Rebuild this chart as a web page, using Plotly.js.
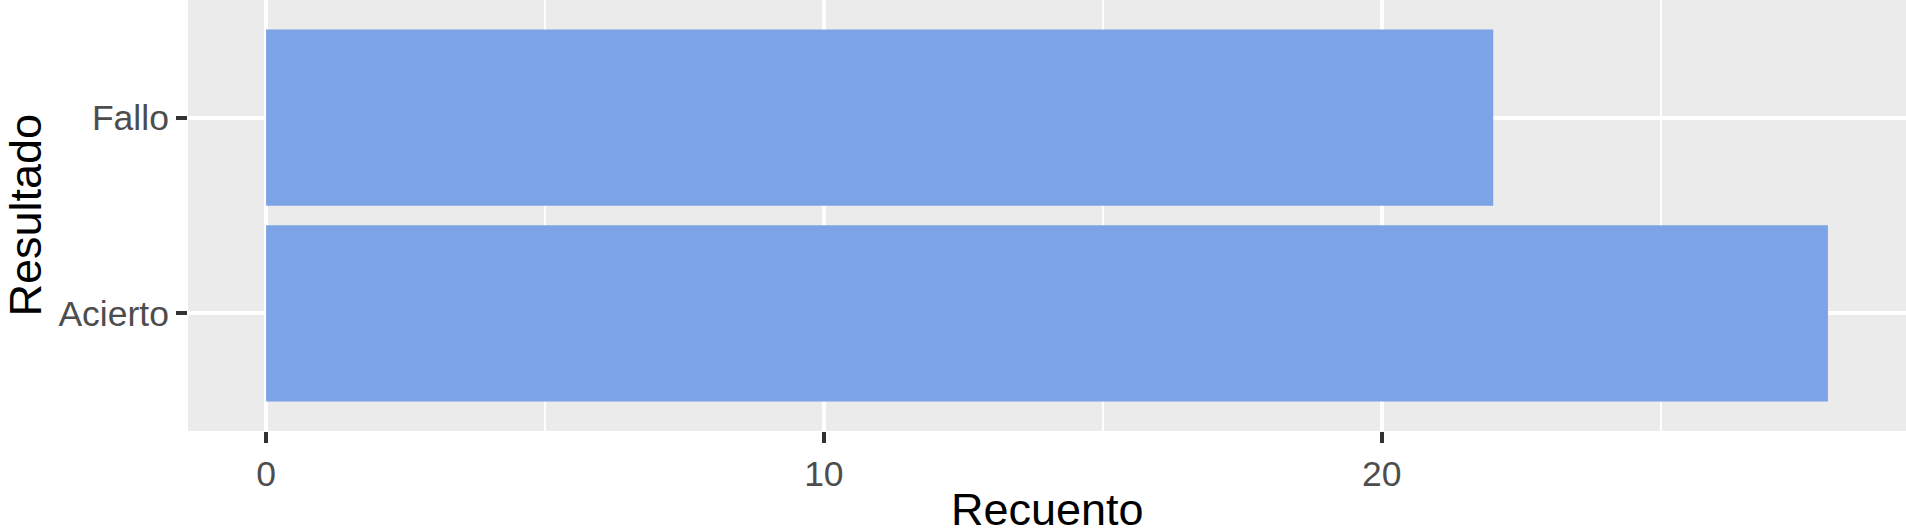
<!DOCTYPE html>
<html>
<head>
<meta charset="utf-8">
<script src="https://cdn.plot.ly/plotly-3.0.1.min.js"></script>
<style>html,body{margin:0;padding:0;background:#fff;}#chart{width:1906px;height:529px;}</style>
</head>
<body>
<div id="chart"></div>
<script>
const categories = ["Acierto", "Fallo"];
const counts = [28, 22];
const xTickVals = [0, 10, 20];
const xTickText = ["0", "10", "20"];
const xTitle = "Recuento";
const yTitle = "Resultado";

const trace = {
  type: "bar",
  orientation: "h",
  y: categories,
  x: counts,
  width: 0.9,
  marker: {color: "#7BA3E6", line: {width: 0}},
  hoverinfo: "x+y"
};

const layout = {
  width: 1906,
  height: 529,
  margin: {l: 188, r: 0, t: 0, b: 98, pad: 0},
  paper_bgcolor: "#FFFFFF",
  plot_bgcolor: "#EBEBEB",
  showlegend: false,
  font: {family: "Liberation Sans, Arial, sans-serif"},
  xaxis: {
    range: [-1.4, 29.4],
    tickmode: "array",
    tickvals: xTickVals,
    ticktext: xTickText,
    ticks: "outside",
    ticklen: 11,
    tickwidth: 4,
    tickcolor: "#333333",
    tickfont: {size: 35.5, color: "#4D4D4D"},
    showgrid: true,
    gridcolor: "#FFFFFF",
    gridwidth: 4,
    minor: {dtick: 5, tick0: 0, showgrid: true, gridcolor: "#FFFFFF", gridwidth: 2, ticks: ""},
    zeroline: false,
    showline: false
  },
  yaxis: {
    type: "category",
    categoryorder: "array",
    categoryarray: categories,
    range: [-0.6, 1.6],
    ticks: "outside",
    ticklen: 11,
    tickwidth: 4,
    tickcolor: "#333333",
    tickfont: {size: 35.5, color: "#4D4D4D"},
    showgrid: true,
    gridcolor: "#FFFFFF",
    gridwidth: 4,
    zeroline: false,
    showline: false
  },
  annotations: [
    {
      text: xTitle, xref: "paper", yref: "paper", x: 0.5, y: 0,
      xanchor: "center", yanchor: "middle", yshift: -78, showarrow: false,
      font: {size: 45, color: "#000000"}
    },
    {
      text: yTitle, xref: "paper", yref: "paper", x: 0, y: 0.5,
      xanchor: "center", yanchor: "middle", xshift: -163, textangle: -90, showarrow: false,
      font: {size: 45, color: "#000000"}
    }
  ]
};

Plotly.newPlot("chart", [trace], layout, {displayModeBar: false, responsive: false});
</script>
</body>
</html>
